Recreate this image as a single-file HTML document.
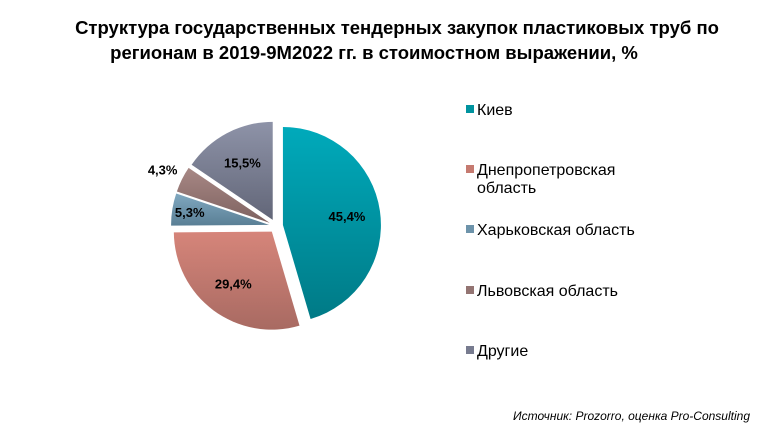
<!DOCTYPE html>
<html><head><meta charset="utf-8">
<style>
body{margin:0;background:#fff;width:767px;height:436px;overflow:hidden;font-family:"Liberation Sans",Arial,sans-serif;}
</style></head>
<body>
<svg width="767" height="436" xmlns="http://www.w3.org/2000/svg">
<defs>
<linearGradient id="g0" x1="0" y1="0" x2="0" y2="1"><stop offset="0" stop-color="#00aabb"/><stop offset="1" stop-color="#007a86"/></linearGradient>
<linearGradient id="g1" x1="0" y1="0" x2="0" y2="1"><stop offset="0" stop-color="#d6857a"/><stop offset="1" stop-color="#a86a62"/></linearGradient>
<linearGradient id="g2" x1="0" y1="0" x2="0" y2="1"><stop offset="0" stop-color="#80a8c0"/><stop offset="1" stop-color="#5a7f95"/></linearGradient>
<linearGradient id="g3" x1="0" y1="0" x2="0" y2="1"><stop offset="0" stop-color="#a88885"/><stop offset="1" stop-color="#7e6260"/></linearGradient>
<linearGradient id="g4" x1="0" y1="0" x2="0" y2="1"><stop offset="0" stop-color="#8e93a8"/><stop offset="1" stop-color="#626678"/></linearGradient>
</defs>
<text x="397" y="34" text-anchor="middle" font-size="18.5" font-weight="bold" fill="#000">Структура государственных тендерных закупок пластиковых труб по</text>
<text x="374" y="59" text-anchor="middle" font-size="18.5" font-weight="bold" fill="#000">регионам в 2019-9М2022 гг. в стоимостном выражении, %</text>
<g id="pie"></g>
<g id="legend"></g>
<text x="750" y="420" text-anchor="end" font-size="12" font-style="italic" fill="#000">Источник: Prozorro, оценка Pro-Consulting</text>
</svg>
<script>
const categories = ["Киев", "Днепропетровская область", "Харьковская область", "Львовская область", "Другие"];
const values = [45.4, 29.4, 5.3, 4.3, 15.5];
const valueLabels = ["45,4%", "29,4%", "5,3%", "4,3%", "15,5%"];
const legendLines = [["Киев"], ["Днепропетровская", "область"], ["Харьковская область"], ["Львовская область"], ["Другие"]];
const legendColors = ["#00939f", "#c57a70", "#6d93aa", "#937472", "#777b8f"];

const NS = "http://www.w3.org/2000/svg";
const cx = 276, cy = 226, R = 98, EXPL = 7;
const total = values.reduce((a, b) => a + b, 0);
const pie = document.getElementById("pie");
const slugs = ["kiev", "dnipro", "kharkiv", "lviv", "other"];
let acc = 0;
function pt(a, r, ox, oy) { return [ox + r * Math.sin(a), oy - r * Math.cos(a)]; }
values.forEach((v, i) => {
  const a0 = acc / total * 2 * Math.PI;
  acc += v;
  const a1 = acc / total * 2 * Math.PI;
  const am = (a0 + a1) / 2;
  const ox = cx + EXPL * Math.sin(am), oy = cy - EXPL * Math.cos(am);
  const p0 = pt(a0, R, ox, oy), p1 = pt(a1, R, ox, oy);
  const large = (a1 - a0) > Math.PI ? 1 : 0;
  const path = document.createElementNS(NS, "path");
  path.setAttribute("d", `M${ox},${oy} L${p0[0]},${p0[1]} A${R},${R} 0 ${large} 1 ${p1[0]},${p1[1]} Z`);
  path.setAttribute("fill", `url(#g${i})`);
  
  
  pie.appendChild(path);
  const frac = v / total;
  const lr = frac < 0.05 ? R * 1.22 : (frac < 0.1 ? R * 0.82 : R * 0.66);
  const lp = pt(am, lr, ox, oy);
  const t = document.createElementNS(NS, "text");
  t.setAttribute("x", lp[0]);
  t.setAttribute("y", lp[1] + 5);
  t.setAttribute("text-anchor", "middle");
  t.setAttribute("font-size", "13");
  t.setAttribute("font-weight", "bold");
  t.textContent = valueLabels[i];
  
  
  pie.appendChild(t);
});
const legend = document.getElementById("legend");
const legendY = [109, 169, 229, 290, 350];
categories.forEach((c, i) => {
  const g = document.createElementNS(NS, "g");
  
  
  const r = document.createElementNS(NS, "rect");
  r.setAttribute("x", 466); r.setAttribute("y", legendY[i] - 4);
  r.setAttribute("width", 8); r.setAttribute("height", 8);
  r.setAttribute("fill", legendColors[i]);
  
  
  g.appendChild(r);
  legendLines[i].forEach((ln, k) => {
    const t = document.createElementNS(NS, "text");
    t.setAttribute("x", 477); t.setAttribute("y", legendY[i] + 6 + k * 18);
    t.setAttribute("font-size", "16");
    t.textContent = ln;
    
    
    g.appendChild(t);
  });
  legend.appendChild(g);
});
</script>
</body></html>
